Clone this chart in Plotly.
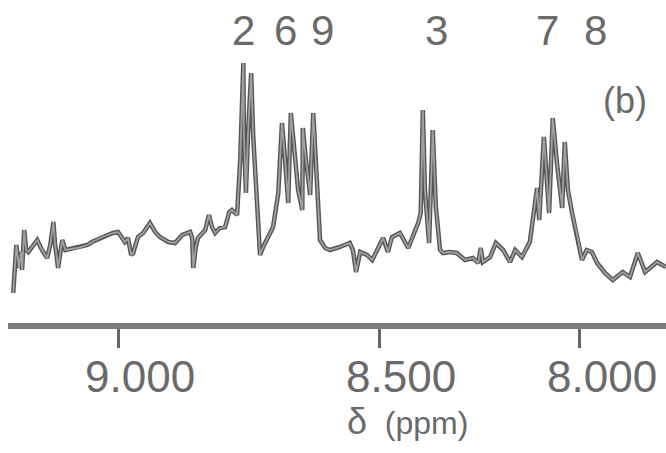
import plotly.graph_objects as go

# chemical shift (ppm, as drawn) and signal intensity (arbitrary units)
shift_ppm = [
    9.201, 9.195, 9.190, 9.186, 9.184, 9.180, 9.176, 9.172, 9.155, 9.146,
    9.136, 9.130, 9.124, 9.121, 9.115, 9.107, 9.101, 9.092, 9.078, 9.059,
    9.050, 9.034, 9.021, 9.010, 9.000, 8.996, 8.987, 8.981, 8.975, 8.971,
    8.962, 8.952, 8.939, 8.929, 8.920, 8.904, 8.891, 8.877, 8.868, 8.862,
    8.858, 8.856, 8.851, 8.847, 8.833, 8.826, 8.820, 8.814, 8.805, 8.795,
    8.791, 8.787, 8.782, 8.772, 8.766, 8.760, 8.759, 8.755, 8.751, 8.745,
    8.741, 8.734, 8.728, 8.722, 8.713, 8.703, 8.693, 8.686, 8.680, 8.674,
    8.669, 8.661, 8.655, 8.647, 8.646, 8.640, 8.632, 8.626, 8.621, 8.613,
    8.603, 8.594, 8.575, 8.556, 8.550, 8.544, 8.536, 8.523, 8.513, 8.504,
    8.492, 8.483, 8.475, 8.460, 8.444, 8.425, 8.420, 8.416, 8.412, 8.404,
    8.397, 8.391, 8.383, 8.377, 8.364, 8.351, 8.335, 8.320, 8.310, 8.305,
    8.301, 8.287, 8.276, 8.262, 8.249, 8.239, 8.226, 8.211, 8.205, 8.197,
    8.193, 8.184, 8.174, 8.167, 8.159, 8.149, 8.144, 8.138, 8.130, 8.121,
    8.111, 8.102, 8.092, 8.082, 8.067, 8.052, 8.033, 8.019, 8.004, 7.990,
    7.967, 7.950,
]
intensity = [
    7, 55, 32, 48, 30, 70, 50, 48, 60, 50,
    42, 55, 78, 57, 32, 60, 50, 51, 52, 55,
    58, 62, 65, 67, 68, 65, 58, 62, 45, 47,
    63, 67, 77, 68, 63, 58, 57, 65, 67, 68,
    62, 32, 53, 62, 70, 85, 73, 67, 72, 73,
    80, 88, 90, 85, 140, 237, 167, 107, 167, 227,
    163, 100, 45, 53, 62, 73, 107, 177, 140, 97,
    187, 143, 110, 90, 172, 140, 105, 187, 140, 60,
    52, 50, 53, 57, 50, 28, 48, 45, 40, 50,
    62, 48, 63, 67, 52, 77, 87, 190, 110, 57,
    170, 93, 50, 47, 48, 47, 40, 42, 37, 52,
    38, 43, 57, 50, 38, 50, 43, 58, 80, 112,
    80, 163, 87, 182, 137, 92, 158, 110, 87, 67,
    40, 50, 48, 37, 27, 20, 28, 23, 47, 28,
    38, 33,
]

# proton assignment labels above the peaks
peak_labels = ["2", "6", "9", "3", "7", "8"]
peak_label_ppm = [8.759, 8.680, 8.609, 8.389, 8.178, 8.086]

# axis ticks (positions as printed on the original, non-uniform scale)
tick_pos = [9.000, 8.500, 8.115]
tick_text = ["9.000", "8.500", "8.000"]

panel_label = "(b)"
axis_title = "<span style='font-size:36px'>δ</span>  (ppm)"

FONT = "Liberation Sans"
INK = "#6a6a6a"

fig = go.Figure()
fig.add_trace(go.Scatter(
    x=shift_ppm, y=intensity, mode="lines",
    line=dict(color="#555555", width=4.5), hoverinfo="skip", showlegend=False,
))
fig.add_trace(go.Scatter(
    x=shift_ppm, y=intensity, mode="lines",
    line=dict(color="#a0a0a0", width=1.8), hoverinfo="skip", showlegend=False,
))

for lab, xp in zip(peak_labels, peak_label_ppm):
    fig.add_annotation(x=xp, y=1.073, xref="x", yref="paper", text=lab,
                       showarrow=False, font=dict(family=FONT, size=42, color=INK),
                       xanchor="center", yanchor="middle")

# tick labels, printed slightly right of their tick marks
for tv, tt in zip(tick_pos, tick_text):
    fig.add_annotation(x=tv, y=-0.197, xref="x", yref="paper", text=tt,
                       showarrow=False, xshift=22,
                       font=dict(family=FONT, size=44, color=INK),
                       xanchor="center", yanchor="middle")

fig.add_annotation(x=8.446, y=-0.36, xref="x", yref="paper", text=axis_title,
                   showarrow=False, font=dict(family=FONT, size=32, color=INK),
                   xanchor="center", yanchor="middle")

fig.add_annotation(x=8.029, y=200, xref="x", yref="y", text=panel_label,
                   showarrow=False, font=dict(family=FONT, size=36, color=INK),
                   xanchor="center", yanchor="middle")

fig.update_layout(
    width=666, height=453,
    margin=dict(l=8, r=0, t=50, b=130),
    paper_bgcolor="white", plot_bgcolor="white",
    xaxis=dict(
        range=[9.211, 7.950], showgrid=False, zeroline=False,
        showline=True, linecolor="#7c7c7c", linewidth=6,
        ticks="outside", ticklen=19, tickwidth=2.5, tickcolor="#666666",
        tickvals=tick_pos, showticklabels=False,
    ),
    yaxis=dict(range=[-23, 250], visible=False),
)

fig.write_html("out.html")
